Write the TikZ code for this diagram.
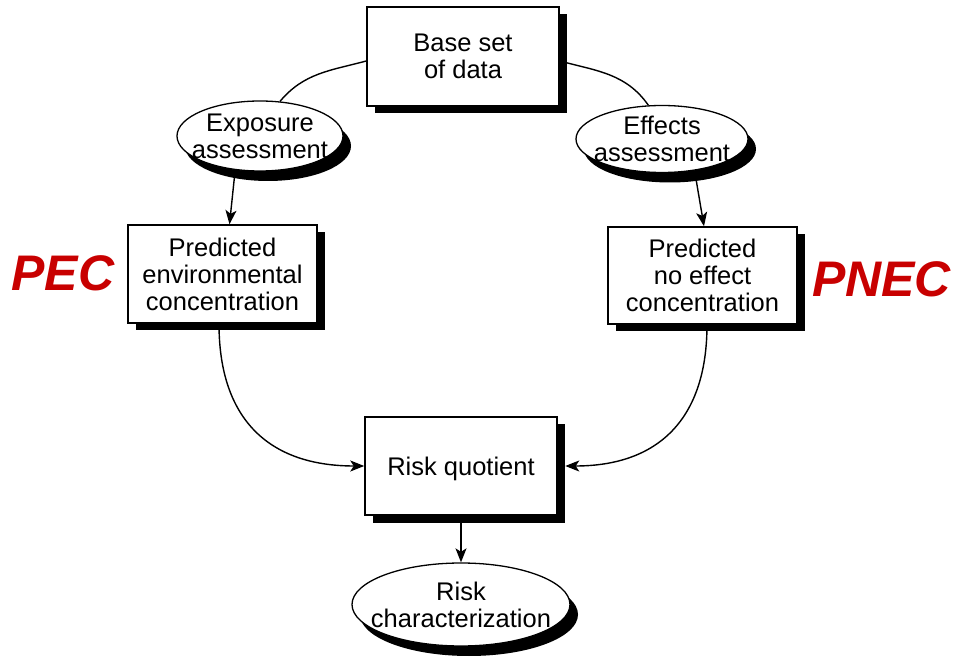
\documentclass[tikz,border=0pt]{standalone}
\usepackage{fontspec}
\setmainfont{Liberation Sans}
\usetikzlibrary{shapes.geometric,shadows,arrows.meta,backgrounds}
\definecolor{labred}{RGB}{200,0,0}
\begin{document}
\begin{tikzpicture}[x=1pt,y=1pt,
  txt/.style={font=\fontsize{25.5}{27}\selectfont, align=center, text depth=0pt},
  boxnode/.style={txt, draw, line width=1.5pt, fill=white, rectangle, inner sep=0pt,
    drop shadow={shadow xshift=7.5pt, shadow yshift=-7.5pt, opacity=1, fill=black}},
  ellnode/.style={txt, draw, line width=1.3pt, fill=white, ellipse, inner xsep=-30pt, inner ysep=-15pt,
    drop shadow={shadow xshift=8pt, shadow yshift=-10pt, opacity=1, fill=black}},
  conn/.style={line width=1.4pt},
  arr/.style={conn, -{Stealth[length=14pt,width=11pt,inset=3.5pt]}},
  biglabel/.style={font=\fontsize{50}{60}\selectfont\bfseries\itshape, text=labred, inner sep=0pt}]
\useasboundingbox (0,0) rectangle (954,657);
\node[boxnode, minimum width=192pt, minimum height=99pt] (base) at (463,600.5) {Base set\\of data};
\node[ellnode, minimum width=166pt, minimum height=70pt] (expo) at (260,521) {Exposure\\assessment};
\node[ellnode, minimum width=172pt, minimum height=67pt] (eff) at (662,518) {Effects\\assessment};
\node[boxnode, minimum width=189pt, minimum height=98pt] (pec) at (222.5,383) {Predicted\\environmental\\concentration};
\node[boxnode, minimum width=189pt, minimum height=97pt] (pnec) at (702.5,381.5) {Predicted\\no effect\\concentration};
\node[boxnode, minimum width=192pt, minimum height=98pt] (rq) at (461,191) {Risk quotient};
\node[ellnode, minimum width=218pt, minimum height=83pt] (rc) at (461,52.5) {Risk\\characterization};
\node[biglabel] (pecl) at (63,383.5) {PEC};
\node[biglabel] (pnecl) at (881.5,377.5) {PNEC};
\begin{pgfonlayer}{background}
\draw[conn] ([yshift=-4.5pt]base.west) to[out=195,in=50] (expo.60);
\draw[conn] ([yshift=-4.5pt]base.east) to[out=-15,in=125] (eff.112);
\draw[arr] ([xshift=-25pt]expo.south) -- ([xshift=7pt]pec.north);
\draw[arr] ([xshift=33pt]eff.south) -- ([xshift=1.5pt]pnec.north);
\draw[arr] ([xshift=-3.5pt]pec.south) to[out=-90,in=180,looseness=1.2] (rq.west);
\draw[arr] ([xshift=4.5pt]pnec.south) to[out=-90,in=0,looseness=1.2] ([xshift=7.5pt]rq.east);
\draw[arr] (rq.south) -- (rc.north);
\end{pgfonlayer}
\end{tikzpicture}
\end{document}
